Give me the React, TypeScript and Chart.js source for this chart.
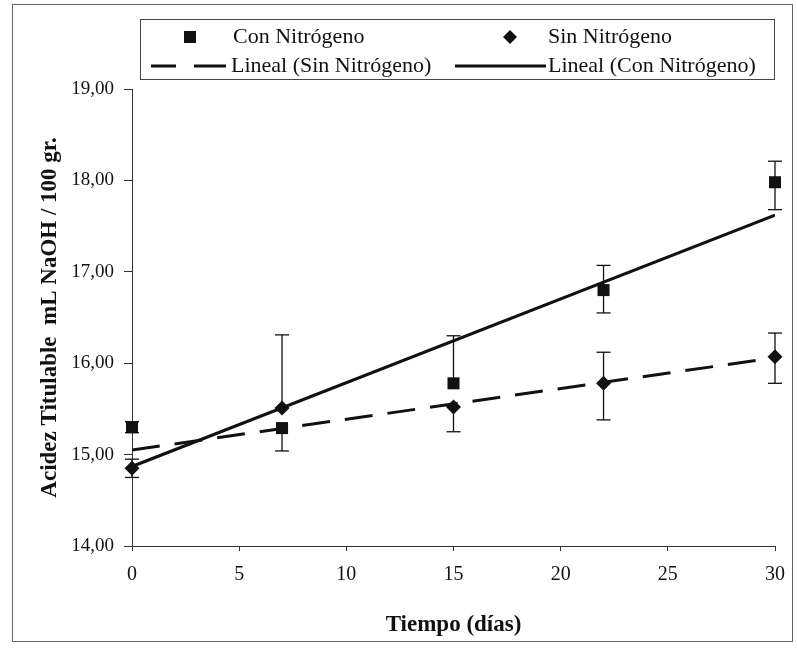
import React, { useEffect, useRef } from "react";
import { Chart, registerables } from "chart.js";

Chart.register(...registerables);

// Sampling days
const DAYS = [0, 7, 15, 22, 30];

// Titratable acidity with nitrogen (mean, lower and upper error bounds)
const CON_N = [15.3, 15.29, 15.78, 16.8, 17.98];
const CON_N_LOW = [15.24, 15.04, 15.78, 16.55, 17.68];
const CON_N_HIGH = [15.36, 15.29, 16.3, 17.07, 18.21];

// Titratable acidity without nitrogen
const SIN_N = [14.85, 15.51, 15.52, 15.78, 16.07];
const SIN_N_LOW = [14.75, 15.51, 15.25, 15.38, 15.78];
const SIN_N_HIGH = [14.95, 16.31, 15.52, 16.12, 16.33];

// Linear trend end points
const TREND_X = [0, 30];
const TREND_CON = [14.87, 17.62];
const TREND_SIN = [15.05, 16.06];

const Y_TICKS = [14, 15, 16, 17, 18, 19];

const FONT = "'Liberation Serif', 'Times New Roman', serif";
const INK = "#111";

const errorBarsPlugin = {
  id: "errorBars",
  beforeDatasetsDraw(chart: any, _args: any, opts: any) {
    const { ctx, scales } = chart;
    const xs = scales.x;
    const ys = scales.y;
    ctx.save();
    ctx.strokeStyle = INK;
    ctx.lineWidth = 1.3;
    for (const set of opts.sets || []) {
      set.values.forEach((v: number, i: number) => {
        const x = xs.getPixelForValue(DAYS[i]);
        const yl = ys.getPixelForValue(set.low[i]);
        const yh = ys.getPixelForValue(set.high[i]);
        const yv = ys.getPixelForValue(v);
        ctx.beginPath();
        ctx.moveTo(x, yh);
        ctx.lineTo(x, yl);
        ctx.stroke();
        const half = 7;
        if (Math.abs(yh - yv) > 0.5) {
          ctx.beginPath();
          ctx.moveTo(x - half, yh);
          ctx.lineTo(x + half, yh);
          ctx.stroke();
        }
        if (Math.abs(yl - yv) > 0.5) {
          ctx.beginPath();
          ctx.moveTo(x - half, yl);
          ctx.lineTo(x + half, yl);
          ctx.stroke();
        }
      });
    }
    ctx.restore();
  },
};

const frameLegendPlugin = {
  id: "frameLegend",
  afterDraw(chart: any) {
    const { ctx } = chart;
    ctx.save();
    // outer frame
    ctx.strokeStyle = "#666";
    ctx.lineWidth = 1;
    ctx.strokeRect(12.5, 4.5, 780, 637);

    // legend box
    ctx.strokeStyle = "#444";
    ctx.strokeRect(140.5, 19.5, 634, 60);

    const r1 = 37;
    const r2 = 66;
    ctx.fillStyle = INK;
    ctx.font = `22px ${FONT}`;
    ctx.textBaseline = "middle";
    ctx.textAlign = "left";

    // square marker
    ctx.fillRect(184, r1 - 6, 12, 12);
    ctx.fillText("Con Nitrógeno", 233, r1);

    // diamond marker
    ctx.beginPath();
    ctx.moveTo(510, r1 - 7);
    ctx.lineTo(517, r1);
    ctx.lineTo(510, r1 + 7);
    ctx.lineTo(503, r1);
    ctx.closePath();
    ctx.fill();
    ctx.fillText("Sin Nitrógeno", 548, r1);

    // dashed trend sample
    ctx.strokeStyle = INK;
    ctx.lineWidth = 3;
    ctx.beginPath();
    ctx.moveTo(151, r2);
    ctx.lineTo(176, r2);
    ctx.moveTo(194, r2);
    ctx.lineTo(226, r2);
    ctx.stroke();
    ctx.fillText("Lineal (Sin Nitrógeno)", 231, r2);

    // solid trend sample
    ctx.beginPath();
    ctx.moveTo(455, r2);
    ctx.lineTo(546, r2);
    ctx.stroke();
    ctx.fillText("Lineal (Con Nitrógeno)", 548, r2);
    ctx.restore();
  },
};

export default function App() {
  const canvasRef = useRef<HTMLCanvasElement | null>(null);

  useEffect(() => {
    document.body.style.margin = "0";
    const canvas = canvasRef.current;
    if (!canvas) return;

    const chart = new Chart(canvas, {
      type: "scatter",
      data: {
        datasets: [
          {
            label: "Con Nitrógeno",
            data: DAYS.map((d, i) => ({ x: d, y: CON_N[i] })),
            pointStyle: "rect",
            pointRadius: 8.5,
            backgroundColor: INK,
            borderColor: INK,
            borderWidth: 0,
            showLine: false,
            clip: false as any,
            order: 1,
          },
          {
            label: "Sin Nitrógeno",
            data: DAYS.map((d, i) => ({ x: d, y: SIN_N[i] })),
            pointStyle: "rectRot",
            pointRadius: 7.5,
            backgroundColor: INK,
            borderColor: INK,
            borderWidth: 0,
            showLine: false,
            clip: false as any,
            order: 1,
          },
          {
            label: "Lineal (Sin Nitrógeno)",
            data: TREND_X.map((d, i) => ({ x: d, y: TREND_SIN[i] })),
            showLine: true,
            pointRadius: 0,
            borderColor: INK,
            borderWidth: 3,
            borderDash: [28, 15],
            order: 2,
          },
          {
            label: "Lineal (Con Nitrógeno)",
            data: TREND_X.map((d, i) => ({ x: d, y: TREND_CON[i] })),
            showLine: true,
            pointRadius: 0,
            borderColor: INK,
            borderWidth: 3,
            order: 2,
          },
        ],
      },
      options: {
        responsive: false,
        animation: false,
        events: [],
        layout: { padding: { top: 89, right: 21, left: 0, bottom: 0 } },
        plugins: {
          legend: { display: false },
          tooltip: { enabled: false },
          errorBars: {
            sets: [
              { values: CON_N, low: CON_N_LOW, high: CON_N_HIGH },
              { values: SIN_N, low: SIN_N_LOW, high: SIN_N_HIGH },
            ],
          },
        } as any,
        scales: {
          x: {
            type: "linear",
            min: 0,
            max: 30,
            ticks: {
              stepSize: 5,
              color: INK,
              font: { family: FONT, size: 20 },
              padding: 12,
              maxRotation: 0,
            },
            grid: {
              drawOnChartArea: false,
              drawTicks: true,
              tickLength: 5,
              color: "#333",
            },
            border: { display: true, color: "#333", width: 1 },
            title: {
              display: true,
              text: "Tiempo (días)",
              color: INK,
              font: { family: FONT, size: 23, weight: "bold" },
              padding: { top: 0, bottom: 10 },
            },
            afterFit(scale: any) {
              scale.height = 103;
            },
          },
          y: {
            type: "linear",
            min: 14,
            max: 19,
            afterBuildTicks(scale: any) {
              scale.ticks = Y_TICKS.map((v) => ({ value: v }));
            },
            ticks: {
              color: INK,
              font: { family: FONT, size: 19 },
              padding: 10,
              callback: (v: any) => Number(v).toFixed(2).replace(".", ","),
            },
            grid: {
              drawOnChartArea: false,
              drawTicks: true,
              tickLength: 8,
              color: "#333",
            },
            border: { display: true, color: "#333", width: 1 },
            title: {
              display: true,
              text: "Acidez Titulable  mL NaOH / 100 gr.",
              color: INK,
              font: { family: FONT, size: 23, weight: "bold" },
              padding: { top: 36, bottom: 0 },
            },
            afterFit(scale: any) {
              scale.width = 132;
            },
          },
        },
      },
      plugins: [errorBarsPlugin, frameLegendPlugin],
    });

    return () => chart.destroy();
  }, []);

  return (
    <div style={{ width: 797, height: 649, background: "#fff" }}>
      <canvas ref={canvasRef} width={797} height={649} />
    </div>
  );
}
